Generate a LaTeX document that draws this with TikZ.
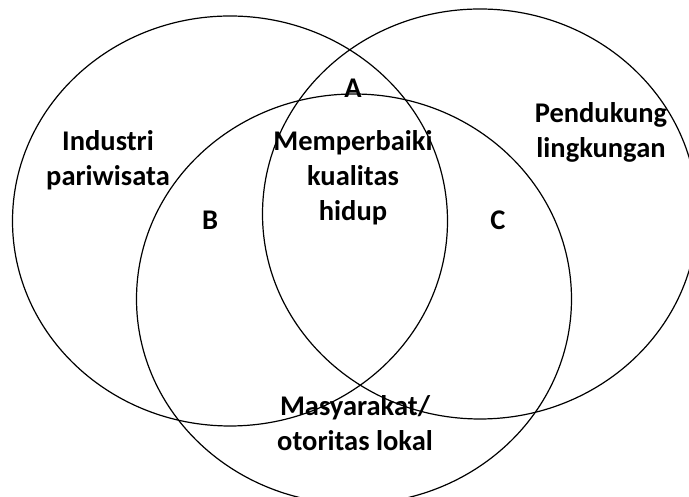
\documentclass[tikz,border=0pt]{standalone}
\usepackage{fontspec}
\setmainfont{Carlito}
\usetikzlibrary{shapes.geometric,positioning}
\begin{document}
\begin{tikzpicture}[x=1pt, y=1pt]
    % Define Styles
        \tikzstyle{set} = [
            ellipse,
            draw,
            line width = 1.2pt,
            minimum width = 435pt,
            minimum height = 410pt,
            inner sep = 0pt
        ]
        \tikzstyle{label} = [
            align = center,
            inner sep = 0pt,
            font = \fontsize{28.5}{35}\selectfont\bfseries
        ]
    \useasboundingbox (0,0) rectangle (689,497);
    % Place sets
        \node [set] (industri) at (230,276) {};
        \node [set] (pendukung) at (480,283) {};
        \node [set] (masyarakat) at (354,198) {};
    % Place labels
        \node [label] (1) at (108,337) {Industri \\ pariwisata};
        \node [label] (2) at (601,364.5) {Pendukung \\ lingkungan};
        \node [label] (3) at (355,73.5) {Masyarakat/ \\ otoritas lokal};
        \node [label] (4) at (353,319) {Memperbaiki \\ kualitas \\ hidup};
        \node [label] (a) at (353,409) {A};
        \node [label] (b) at (210,277) {B};
        \node [label] (c) at (498,277) {C};
\end{tikzpicture}
\end{document}
